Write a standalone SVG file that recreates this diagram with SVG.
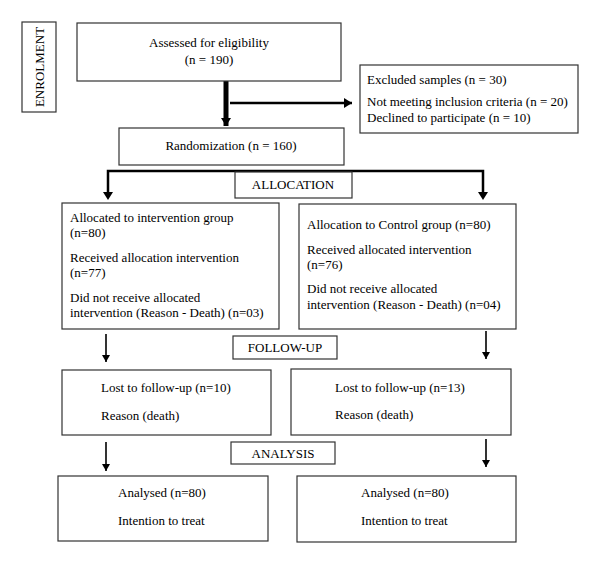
<svg xmlns="http://www.w3.org/2000/svg" width="600" height="564" viewBox="0 0 600 564">
<style>
  .box { fill: #fff; stroke: #333; stroke-width: 1.2; }
  text { font-family: "Liberation Serif", "Times New Roman", serif; font-size: 13px; fill: #000; }
  .c { text-anchor: middle; }
  .thick { stroke: #000; stroke-width: 5; fill: none; }
  .med { stroke: #000; stroke-width: 2.5; fill: none; }
  .thin { stroke: #000; stroke-width: 1.6; fill: none; }
</style>
<defs>
  <marker id="ahBig" markerUnits="userSpaceOnUse" markerWidth="12" markerHeight="12" refX="8" refY="5" orient="auto">
    <path d="M0,0 L8,5 L0,10 Z" fill="#000"/>
  </marker>
  <marker id="ah" markerUnits="userSpaceOnUse" markerWidth="10" markerHeight="10" refX="7" refY="4" orient="auto">
    <path d="M0,0 L7,4 L0,8 Z" fill="#000"/>
  </marker>
</defs>
<rect width="600" height="564" fill="#fff"/>

<g id="connectors">
  <line class="thick" x1="226" y1="81" x2="226" y2="126" marker-end="url(#ahBig)"/>
  <line class="med" x1="230" y1="103" x2="352" y2="103" stroke-width="4" marker-end="url(#ahBig)"/>
  <polyline class="med" points="108,192 108,171 483,171 483,192"/>
  <path d="M103,192 L108,200 L113,192 Z" fill="#000"/>
  <path d="M478,192 L483,200 L488,192 Z" fill="#000"/>
  <line class="thin" x1="106" y1="334" x2="106" y2="362" marker-end="url(#ah)"/>
  <line class="thin" x1="486" y1="331" x2="486" y2="359" marker-end="url(#ah)"/>
  <line class="thin" x1="106" y1="442" x2="106" y2="471" marker-end="url(#ah)"/>
  <line class="thin" x1="486" y1="439" x2="486" y2="467" marker-end="url(#ah)"/>
</g>

<g id="enrolment">
  <rect class="box" x="22" y="22" width="34" height="90"/>
  <text class="c" transform="translate(43.5,67) rotate(-90)">ENROLMENT</text>
</g>

<g id="assessed">
  <rect class="box" x="77" y="23" width="264" height="58"/>
  <text class="c" x="209" y="47">Assessed for eligibility</text>
  <text class="c" x="209" y="64">(n = 190)</text>
</g>

<g id="excluded">
  <rect class="box" x="360" y="65" width="218" height="68"/>
  <text x="367" y="84">Excluded samples (n = 30)</text>
  <text x="367" y="106">Not meeting inclusion criteria (n = 20)</text>
  <text x="367" y="122">Declined to participate (n = 10)</text>
</g>

<g id="randomization">
  <rect class="box" x="119" y="128" width="225" height="37"/>
  <text class="c" x="231" y="150">Randomization (n = 160)</text>
</g>

<g id="allocation">
  <rect class="box" x="235" y="172" width="117" height="26"/>
  <text class="c" x="293" y="189">ALLOCATION</text>
</g>

<g id="intervention">
  <rect class="box" x="62" y="203" width="217" height="126"/>
  <text x="70" y="222">Allocated to intervention group</text>
  <text x="70" y="237">(n=80)</text>
  <text x="70" y="262">Received allocation intervention</text>
  <text x="70" y="277">(n=77)</text>
  <text x="70" y="302">Did not receive allocated</text>
  <text x="70" y="317">intervention (Reason - Death) (n=03)</text>
</g>

<g id="control">
  <rect class="box" x="299" y="204" width="217" height="125"/>
  <text x="307" y="229">Allocation to Control group (n=80)</text>
  <text x="307" y="254">Received allocated intervention</text>
  <text x="307" y="269">(n=76)</text>
  <text x="307" y="293">Did not receive allocated</text>
  <text x="307" y="309">intervention (Reason - Death) (n=04)</text>
</g>

<g id="followup">
  <rect class="box" x="233" y="336" width="104" height="23"/>
  <text class="c" x="285" y="352">FOLLOW-UP</text>
</g>

<g id="lost-left">
  <rect class="box" x="62" y="370" width="209" height="65"/>
  <text x="101" y="392">Lost to follow-up (n=10)</text>
  <text x="101" y="420">Reason (death)</text>
</g>

<g id="lost-right">
  <rect class="box" x="291" y="369" width="220" height="66"/>
  <text x="335" y="392">Lost to follow-up (n=13)</text>
  <text x="335" y="419">Reason (death)</text>
</g>

<g id="analysis">
  <rect class="box" x="231" y="442" width="104" height="22"/>
  <text class="c" x="283" y="458">ANALYSIS</text>
</g>

<g id="analysed-left">
  <rect class="box" x="58" y="476" width="210" height="65"/>
  <text x="118" y="497">Analysed (n=80)</text>
  <text x="118" y="525">Intention to treat</text>
</g>

<g id="analysed-right">
  <rect class="box" x="297" y="476" width="219" height="66"/>
  <text x="361" y="497">Analysed (n=80)</text>
  <text x="361" y="525">Intention to treat</text>
</g>
</svg>
